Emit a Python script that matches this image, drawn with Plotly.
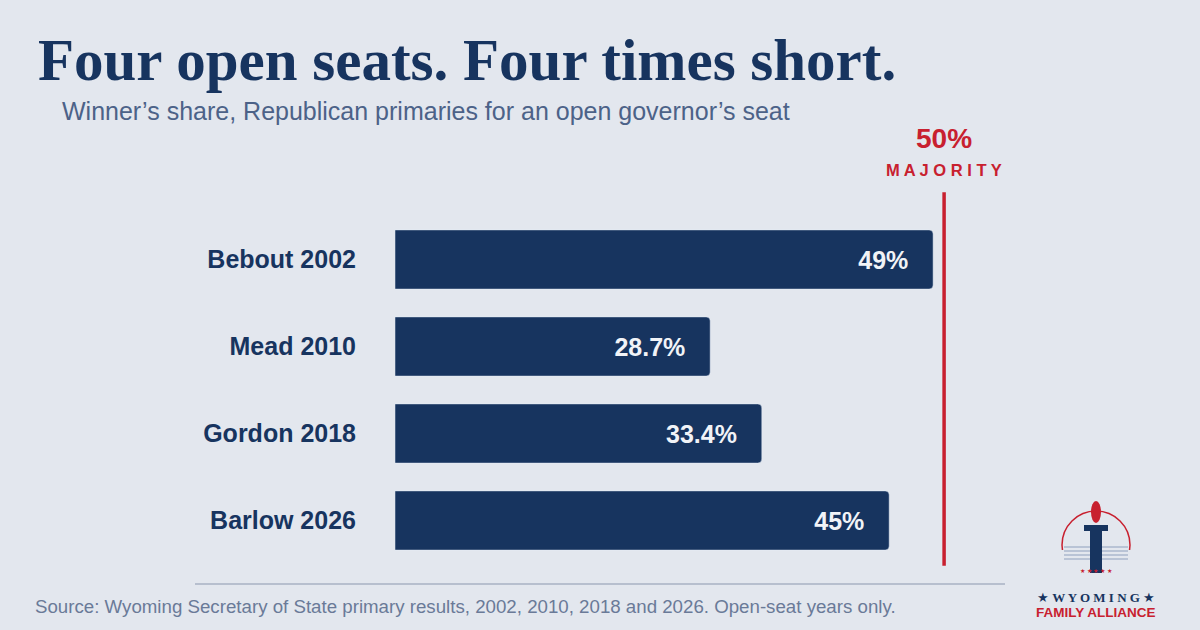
import plotly.graph_objects as go

candidates = ["Bebout 2002", "Mead 2010", "Gordon 2018", "Barlow 2026"]
shares = [49, 28.7, 33.4, 45]
share_labels = ["49%", "28.7%", "33.4%", "45%"]
majority = 50

NAVY = "#17345f"
RED = "#c8202f"
BG = "#e3e7ee"

fig = go.Figure(go.Bar(
    x=shares, y=candidates, orientation="h",
    marker_color=NAVY, width=0.68,
    text=["<b>" + s + "</b>&nbsp;&nbsp;&nbsp;" for s in share_labels],
    textposition="inside", insidetextanchor="end",
    textfont=dict(family="Liberation Sans, Arial", size=25, color="#f1f3f7"),
    hoverinfo="skip",
))

fig.update_layout(
    width=1200, height=630,
    paper_bgcolor=BG, plot_bgcolor=BG,
    margin=dict(l=395, r=201, t=216, b=66),
    showlegend=False, barcornerradius=4,
    font=dict(family="Liberation Sans, Arial", color=NAVY),
)
fig.update_xaxes(range=[0, 55], visible=False)
fig.update_yaxes(autorange="reversed", showgrid=False, zeroline=False,
                 ticks="", ticklabelstandoff=38,
                 tickfont=dict(family="Liberation Sans, Arial", size=25, color=NAVY, weight="bold"))

# majority line
fig.add_shape(type="line", xref="x", yref="paper", x0=majority, x1=majority,
              y0=-0.005, y1=1.068, line=dict(color=RED, width=3.5))


def px_to_paper(x, y):
    return (x - 395) / (1200 - 395 - 201), (630 - 66 - y) / (630 - 216 - 66)


def ptxt(x, y, s, size, color, family="Liberation Sans, Arial", anchor="left"):
    px_, py_ = px_to_paper(x, y)
    fig.add_annotation(x=px_, y=py_, xref="paper", yref="paper",
                       xanchor=anchor, yanchor="middle", text=s, showarrow=False,
                       font=dict(size=size, color=color, family=family))


ptxt(944, 138, "<b>50%</b>", 28, RED, anchor="center")
ptxt(944, 170, "<b>M A J O R I T Y</b>", 16.5, RED, anchor="center")
ptxt(36, 60, "<b>Four open seats. Four times short.</b>", 59, NAVY, family="Liberation Serif, serif")
ptxt(60, 111, "Winner’s share, Republican primaries for an open governor’s seat", 25, "#4c6288")
ptxt(33, 606, "Source: Wyoming Secretary of State primary results, 2002, 2010, 2018 and 2026. Open-seat years only.",
     18.7, "#6a7a98")

# bottom rule
x0, y0 = px_to_paper(195, 584)
x1, _ = px_to_paper(1005, 584)
fig.add_shape(type="line", xref="paper", yref="paper", x0=x0, x1=x1, y0=y0, y1=y0,
              line=dict(color="#a9b2c3", width=1.5))

# logo
cx, cy = 1096, 545
lx0, ly0 = px_to_paper(cx - 34, cy - 34)
lx1, ly1 = px_to_paper(cx + 34, cy + 34)
fig.add_shape(type="circle", xref="paper", yref="paper", x0=lx0, x1=lx1, y0=ly1, y1=ly0,
              line=dict(color=RED, width=1.5))
bx0, by0 = px_to_paper(cx - 36, cy + 5)
bx1, by1 = px_to_paper(cx + 36, cy + 40)
fig.add_shape(type="rect", xref="paper", yref="paper", x0=bx0, x1=bx1, y0=by1, y1=by0,
              line_width=0, fillcolor=BG)
for i in range(4):
    a0, a1 = px_to_paper(cx - 32, cy + 2 + i * 4)
    b0, _ = px_to_paper(cx + 32, cy)
    fig.add_shape(type="line", xref="paper", yref="paper", x0=a0, x1=b0, y0=a1, y1=a1,
                  line=dict(color="#8fa0bd", width=1))
c0, c1 = px_to_paper(cx - 6, cy - 15)
d0, d1 = px_to_paper(cx + 6, cy + 28)
fig.add_shape(type="rect", xref="paper", yref="paper", x0=c0, x1=d0, y0=d1, y1=c1,
              line_width=0, fillcolor=NAVY)
e0, e1 = px_to_paper(cx - 12, cy - 20)
f0, f1 = px_to_paper(cx + 12, cy - 14)
fig.add_shape(type="rect", xref="paper", yref="paper", x0=e0, x1=f0, y0=f1, y1=e1,
              line_width=0, fillcolor=NAVY)
g0, g1 = px_to_paper(cx - 5, cy - 44)
h0, h1 = px_to_paper(cx + 5, cy - 22)
fig.add_shape(type="circle", xref="paper", yref="paper", x0=g0, x1=h0, y0=h1, y1=g1,
              line_width=0, fillcolor=RED)
ptxt(cx, cy + 26, "★ ★ ★ ★ ★", 6, RED, anchor="center")
ptxt(cx, 597, "★ <b>W Y O M I N G</b> ★", 13, NAVY, family="Liberation Serif, serif", anchor="center")
ptxt(cx, 612, "<b>FAMILY ALLIANCE</b>", 13.5, RED, anchor="center")

fig.write_html("out.html", config={"displayModeBar": False},
               post_script="document.body.style.margin='0';")
